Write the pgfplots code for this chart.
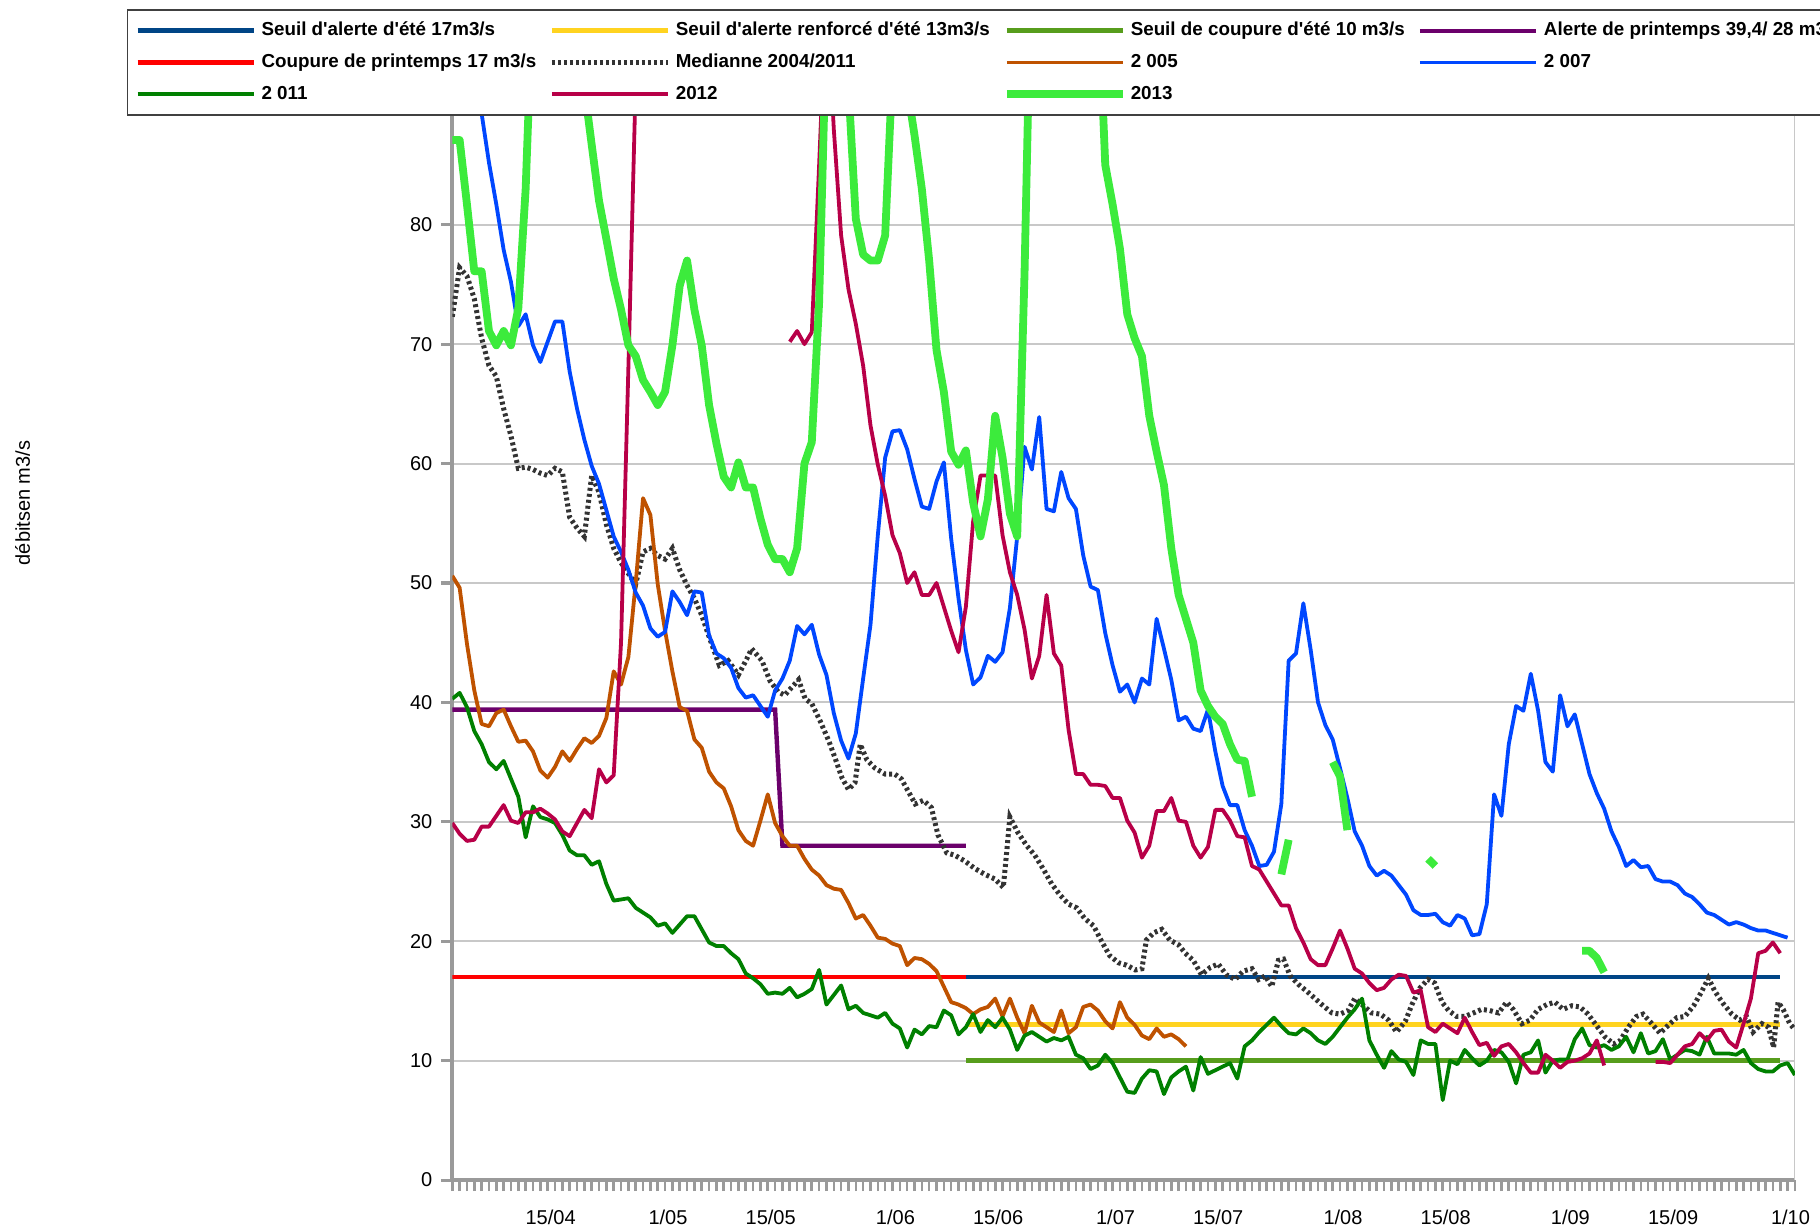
\documentclass[border=0pt]{standalone}
\usepackage{fontspec}
\setmainfont{Liberation Sans}
\usepackage{pgfplots}
\pgfplotsset{compat=1.18}
\definecolor{cAE}{HTML}{004586}
\definecolor{cAR}{HTML}{FFD320}
\definecolor{cCE}{HTML}{579D1C}
\definecolor{cAP}{HTML}{6B006B}
\definecolor{cCP}{HTML}{FF0000}
\definecolor{cMed}{HTML}{333333}
\definecolor{c05}{HTML}{BF5200}
\definecolor{c07}{HTML}{0047FF}
\definecolor{c11}{HTML}{008000}
\definecolor{c12}{HTML}{B80048}
\definecolor{c13}{HTML}{3CEB3C}
\definecolor{axgray}{HTML}{9A9A9A}
\definecolor{gridgray}{HTML}{C8C8C8}
\newcommand{\q}{\textquotesingle}
\begin{document}
\begin{tikzpicture}
\begin{axis}[
  at={(0pt,0pt)}, anchor=south west,
  scale only axis, width=671.3pt, height=537.4pt,
  xmin=0, xmax=183, ymin=0, ymax=90,
  axis x line*=bottom, axis y line*=left,
  x axis line style={-, axgray, line width=1.65pt},
  y axis line style={-, axgray, line width=2pt},
  tick align=outside,
  major tick length=5.5pt,
  xtick={0,...,183}, xticklabels={},
  xtick style={axgray, line width=1.3pt},
  extra x ticks={13.4,29.4,43.4,60.4,74.4,90.4,104.4,121.4,135.4,152.4,166.4,182.4},
  extra x tick labels={15/04,1/05,15/05,1/06,15/06,1/07,15/07,1/08,15/08,1/09,15/09,1/10},
  extra x tick style={major tick length=0pt, grid=none, xticklabel style={yshift=-11.5pt}},
  ytick={0,10,...,90},
  ytick style={axgray, line width=1.6pt},
  ymajorgrids, grid style={gridgray, line width=1pt},
  ticklabel style={font=\fontsize{10}{12}\selectfont},
  yticklabel style={inner xsep=4.3pt},
  /pgf/number format/assume math mode=true,
  ylabel={débitsen m3/s},
  ylabel style={at={(axis description cs:-0.3201,0.63)}, anchor=center, font=\fontsize{10}{12}\selectfont},
  unbounded coords=jump,
  legend columns=4,
  legend cell align=left,
  legend style={at={(axis description cs:-0.24236,1.08932)}, anchor=north west,
    draw=black!75, line width=0.75pt, fill=white,
    font=\fontsize{9.4}{11}\selectfont\bfseries,
    inner xsep=3.75pt, inner ysep=5.9pt, row sep=6.85pt,
    nodes={inner sep=0pt, text height=7pt, text depth=2pt},
    /tikz/every even column/.append style={column sep=6.5pt}},
  legend image code/.code={\draw[#1, line cap=butt] (0pt,0pt) -- (58pt,0pt); \path[draw=none, fill=none] (0pt,0pt) -- (62pt,0pt);},
]
\draw[gridgray, line width=1pt] (rel axis cs:1,0) -- (rel axis cs:1,1);
% thresholds
\addplot[cAE, line width=2.4pt] coordinates {(70,17) (181,17)};
\addlegendentry{Seuil d\q alerte d\q été 17m3/s}
\addplot[cAR, line width=2.4pt] coordinates {(70,13) (181,13)};
\addlegendentry{Seuil d\q alerte renforcé d\q été 13m3/s}
\addplot[cCE, line width=2.4pt] coordinates {(70,10) (181,10)};
\addlegendentry{Seuil de coupure d\q été 10 m3/s}
\addplot[cAP, line width=2.2pt] coordinates {(0,39.4) (44,39.4) (45,28) (70,28)};
\addlegendentry{Alerte de printemps 39,4/ 28 m3/s}
\addplot[cCP, line width=2.4pt] coordinates {(0,17) (70,17)};
\addlegendentry{Coupure de printemps 17 m3/s}
% median
\addplot[cMed, line width=2.5pt, dash pattern=on 1.5pt off 1.5pt] coordinates {
(0,72.3) (1,76.4) (2,75.7) (3,73.8) (4,70.5) (5,68.2) (6,67.3) (7,64.6) (8,62.3) (9,59.6)
(10,59.7) (11,59.5) (12,59.2) (13,59.0) (14,59.6) (15,59.3) (16,55.5) (17,54.6) (18,53.9) (19,59.0)
(20,57.6) (21,54.9) (22,52.9) (23,51.7) (24,50.8) (25,49.9) (26,52.6) (27,52.9) (28,52.3) (29,52.0)
(30,52.9) (31,51.1) (32,49.8) (33,48.7) (34,47.3) (35,45.5) (36.4,43.1) (37.6,43.5) (39,42.3) (40.1,43.6)
(40.8,44.5) (42.2,43.5) (43.3,41.8) (44.4,40.9) (45.3,40.6) (47.2,41.9) (48.1,40.3) (49,39.9) (50.1,38.5) (51.3,36.8)
(52.2,35.3) (53.1,33.7) (54,32.7) (54.9,33.3) (55.6,36.5) (56.5,35.2) (57.6,34.5) (59,34.0) (60.3,34.0) (61.2,33.6)
(63.1,31.5) (64.2,31.8) (65.3,31.2) (66.2,28.9) (67.4,27.4) (68.5,27.2) (69.9,26.7) (71.2,26.1) (72.6,25.6) (74,25.2)
(75.1,24.5) (75.6,27.7) (76,30.4) (77.1,29.1) (78.3,28.0) (79.4,27.2) (80.6,26.0) (81.7,24.8) (82.8,23.9) (84,23.1)
(85.1,22.8) (86.2,21.9) (87.4,21.3) (88.5,20.0) (89.6,18.8) (90.8,18.2) (91.9,18.0) (93.1,17.6) (94,17.7) (94.6,20.1)
(95.6,20.7) (96.7,21.0) (97.8,20.1) (99,19.7) (99.9,19.0) (101,18.4) (102.1,17.2) (103.3,17.8) (104.4,18.1) (105.5,17.2)
(106.7,16.8) (107.8,17.5) (109,17.7) (109.9,16.8) (110.8,17.1) (111.7,16.2) (112.6,18.4) (113.3,18.5) (114.2,17.1) (115.3,16.4)
(116.5,15.8) (117.6,15.2) (118.7,14.6) (119.9,14.0) (121,13.9) (122.1,14.2) (123,15.2) (124.2,14.6) (125.3,14.0) (126.5,13.9)
(127.6,13.4) (128.7,12.4) (129.9,13.3) (130.8,14.7) (131.9,16.1) (133,16.8) (133.9,16.5) (134.9,14.9) (135.8,14.2) (136.9,13.7)
(138,13.7) (139.2,14.0) (140.3,14.3) (141.4,14.2) (142.6,14.0) (143.7,14.9) (144.6,14.3) (145.8,13.1) (146.9,13.4) (148,14.3)
(149.2,14.7) (150.3,14.9) (151.4,14.3) (152.6,14.6) (153.7,14.5) (154.8,13.9) (156,12.9) (157.1,12.0) (158.3,11.4) (159.2,11.7)
(160.3,12.8) (161.4,13.7) (162.3,13.9) (163.5,13.1) (164.6,12.3) (165.8,13.0) (166.9,13.6) (168,13.7) (169.2,14.6) (170.3,15.8)
(171.2,16.9) (172.1,15.8) (173.2,14.8) (174.4,13.9) (175.5,13.4) (176.4,13.7) (177.3,12.4) (178.5,13.1) (179.4,12.8) (180.1,11.1)
(180.7,14.9) (181.4,14.3) (182.3,13.1) (183,12.6)};
\addlegendentry{Medianne 2004/2011}
% 2005
\addplot[c05, line width=1.9pt, line join=round] coordinates {
(0,50.6) (1,49.6) (2,44.9) (3,41.0) (4,38.2) (5,38.0) (6,39.1) (7,39.4) (8,38.0) (9,36.7)
(10,36.8) (11,35.9) (12,34.3) (13,33.7) (14,34.6) (15,35.9) (16,35.1) (17,36.1) (18,37.0) (19,36.6)
(20,37.2) (21,38.7) (22,42.6) (23,41.5) (24,43.8) (25,50.0) (26,57.1) (27,55.7) (28,49.9) (29,46.0)
(30,42.6) (31,39.6) (32,39.3) (33,36.9) (34,36.2) (35,34.2) (36,33.3) (37,32.8) (38,31.3) (39,29.3)
(40,28.4) (41,28.0) (42,30.1) (43,32.3) (44,29.9) (45,28.8) (46,28.0) (47,28.0) (48,26.9) (49,26.0)
(50,25.5) (51,24.7) (52,24.4) (53,24.3) (54,23.2) (55,21.9) (56,22.2) (57,21.3) (58,20.3) (59,20.2)
(60,19.8) (61,19.6) (62,18.0) (63,18.6) (64,18.5) (65,18.1) (66,17.5) (67,16.2) (68,14.9) (69,14.7)
(70,14.4) (71,13.9) (72,14.3) (73,14.5) (74,15.2) (75,13.7) (76,15.2) (77,13.6) (78,12.3) (79,14.6)
(80,13.2) (81,12.8) (82,12.4) (83,14.2) (84,12.3) (85,12.8) (86,14.5) (87,14.7) (88,14.2) (89,13.3)
(90,12.7) (91,14.9) (92,13.6) (93,13.0) (94,12.1) (95,11.8) (96,12.7) (97,12.0) (98,12.2) (99,11.8)
(100,11.2)};
\addlegendentry{2 005}
% 2007
\addplot[c07, line width=1.9pt, line join=round] coordinates {
(0,100) (1,98) (2,96) (3,93) (4,89.3) (5,85.2) (6,81.7) (7,77.9) (8,75.2) (9,71.5)
(10,72.5) (11,69.9) (12,68.5) (13,70.2) (14,71.9) (15,71.9) (16,67.7) (17,64.6) (18,62.0) (19,59.8)
(20,58.3) (21,56.1) (22,53.9) (23,52.6) (24,51.1) (25,49.2) (26,48.1) (27,46.2) (28,45.5) (29,45.9)
(30,49.3) (31,48.4) (32,47.3) (33,49.3) (34,49.2) (35,45.6) (36,44.1) (37,43.7) (38,42.9) (39,41.2)
(40,40.4) (41,40.6) (42,39.7) (43,38.8) (44,41.0) (45,42.0) (46,43.5) (47,46.4) (48,45.7) (49,46.5)
(50,44.0) (51,42.3) (52,39.1) (53,36.8) (54,35.3) (55,37.4) (56,42.0) (57,46.5) (58,54.0) (59,60.5)
(60,62.7) (61,62.8) (62,61.2) (63,58.7) (64,56.4) (65,56.2) (66,58.5) (67,60.1) (68,53.7) (69,48.7)
(70,44.4) (71,41.5) (72,42.1) (73,43.9) (74,43.4) (75,44.2) (76,47.9) (77,53.9) (78,61.4) (79,59.5)
(80,63.9) (81,56.2) (82,56.0) (83,59.3) (84,57.1) (85,56.2) (86,52.3) (87,49.7) (88,49.4) (89,45.8)
(90,43.1) (91,40.9) (92,41.5) (93,40.0) (94,42.0) (95,41.5) (96,47.0) (97,44.5) (98,41.9) (99,38.5)
(100,38.8) (101,37.8) (102,37.6) (103,39.4) (104,35.9) (105,33.0) (106,31.4) (107,31.4) (108,29.3) (109,28.0)
(110,26.3) (111,26.4) (112,27.5) (113,31.5) (114,43.5) (115,44.1) (116,48.3) (117,44.4) (118,40.0) (119,38.1)
(120,36.9) (121,34.5) (122,32.0) (123,29.2) (124,28.0) (125,26.3) (126,25.5) (127,25.9) (128,25.5) (129,24.7)
(130,23.9) (131,22.6) (132,22.2) (133,22.2) (134,22.3) (135,21.6) (136,21.3) (137,22.2) (138,21.9) (139,20.5)
(140,20.6) (141,23.1) (142,32.3) (143,30.5) (144,36.5) (145,39.7) (146,39.3) (147,42.4) (148,39.3) (149,35.0)
(150,34.2) (151,40.6) (152,38.0) (153,39.0) (154,36.5) (155,34.0) (156,32.4) (157,31.1) (158,29.2) (159,27.9)
(160,26.3) (161,26.8) (162,26.2) (163,26.3) (164,25.2) (165,25.0) (166,25.0) (167,24.7) (168,24.0) (169,23.7)
(170,23.1) (171,22.4) (172,22.2) (173,21.8) (174,21.4) (175,21.6) (176,21.4) (177,21.1) (178,20.9) (179,20.9)
(180,20.7) (181,20.5) (182,20.3)};
\addlegendentry{2 007}
% 2011
\addplot[c11, line width=1.9pt, line join=round] coordinates {
(0,40.3) (1,40.8) (2,39.6) (3,37.6) (4,36.5) (5,35.0) (6,34.4) (7,35.1) (8,33.6) (9,32.1)
(10,28.7) (11,31.3) (12,30.4) (13,30.2) (14,29.9) (15,28.9) (16,27.6) (17,27.2) (18,27.2) (19,26.4)
(20,26.7) (21,24.8) (22,23.4) (23,23.5) (24,23.6) (25,22.8) (26,22.4) (27,22.0) (28,21.3) (29,21.5)
(30,20.7) (31,21.4) (32,22.1) (33,22.1) (34,21.0) (35,19.9) (36,19.6) (37,19.6) (38,19.0) (39,18.5)
(40,17.3) (41,16.9) (42,16.4) (43,15.6) (44,15.7) (45,15.6) (46,16.1) (47,15.3) (48,15.6) (49,16.0)
(50,17.6) (51,14.7) (52,15.5) (53,16.3) (54,14.3) (55,14.6) (56,14.0) (57,13.8) (58,13.6) (59,14.0)
(60,13.1) (61,12.7) (62,11.1) (63,12.6) (64,12.2) (65,12.9) (66,12.8) (67,14.2) (68,13.8) (69,12.2)
(70,12.8) (71,13.9) (72,12.4) (73,13.4) (74,12.8) (75,13.6) (76,12.6) (77,10.9) (78,12.1) (79,12.4)
(80,12.0) (81,11.6) (82,11.9) (83,11.7) (84,12.0) (85,10.5) (86,10.2) (87,9.3) (88,9.6) (89,10.5)
(90,9.8) (91,8.6) (92,7.4) (93,7.3) (94,8.5) (95,9.2) (96,9.1) (97,7.2) (98,8.6) (99,9.1)
(100,9.5) (101,7.5) (102,10.3) (103,8.9) (104,9.2) (105,9.5) (106,9.8) (107,8.5) (108,11.2) (109,11.7)
(110,12.4) (111,13.0) (112,13.6) (113,12.9) (114,12.3) (115,12.2) (116,12.7) (117,12.3) (118,11.7) (119,11.4)
(120,12.0) (121,12.8) (122,13.6) (123,14.3) (124,15.2) (125,11.7) (126,10.5) (127,9.4) (128,10.8) (129,10.1)
(130,9.9) (131,8.8) (132,11.7) (133,11.4) (134,11.4) (135,6.7) (136,10.0) (137,9.7) (138,10.9) (139,10.2)
(140,9.6) (141,10.0) (142,10.9) (143,10.7) (144,9.9) (145,8.1) (146,10.5) (147,10.7) (148,11.7) (149,9.0)
(150,10.0) (151,10.1) (152,10.1) (153,11.8) (154,12.7) (155,11.3) (156,11.1) (157,11.3) (158,10.9) (159,11.2)
(160,12.0) (161,10.7) (162,12.3) (163,10.6) (164,10.8) (165,11.8) (166,10.1) (167,10.5) (168,10.9) (169,10.8)
(170,10.5) (171,12.0) (172,10.6) (173,10.6) (174,10.6) (175,10.5) (176,10.9) (177,9.8) (178,9.3) (179,9.1)
(180,9.1) (181,9.6) (182,9.8) (183,8.8)};
\addlegendentry{2 011}
% 2012
\addplot[c12, line width=1.9pt, line join=round] coordinates {
(0,29.9) (1,29.0) (2,28.4) (3,28.5) (4,29.6) (5,29.6) (6,30.5) (7,31.4) (8,30.1) (9,29.9)
(10,30.8) (11,30.8) (12,31.1) (13,30.7) (14,30.2) (15,29.2) (16,28.8) (17,29.9) (18,31.0) (19,30.3)
(20,34.4) (21,33.3) (22,33.9) (23,45.0) (24,68.0) (25,92.0) (35,nan)
(46,70.2) (47,71.1) (48,70.0) (49,71.0) (50,85) (51,100) (52,88) (53,79.1) (54,74.6) (55,71.7) (56,68.2) (57,63.2) (58,59.9) (59,57.3)
(60,54.0) (61,52.5) (62,50.0) (63,50.9) (64,49.0) (65,49.0) (66,50.0) (67,48.0) (68,46.0) (69,44.2)
(70,48.0) (71,55.2) (72,59.0) (73,59.0) (74,59.0) (75,54.0) (76,50.9) (77,49.0) (78,46.1) (79,42.0)
(80,43.9) (81,49.0) (82,44.1) (83,43.1) (84,37.7) (85,34.0) (86,34.0) (87,33.1) (88,33.1) (89,33.0)
(90,32.0) (91,32.0) (92,30.1) (93,29.1) (94,27.0) (95,28.0) (96,30.9) (97,30.9) (98,32.0) (99,30.1)
(100,30.0) (101,28.0) (102,27.0) (103,27.9) (104,31.0) (105,31.0) (106,30.1) (107,28.8) (108,28.7) (109,26.3)
(110,26.0) (111,25.0) (112,24.0) (113,23.0) (114,23.0) (115,21.1) (116,19.9) (117,18.5) (118,18.0) (119,18.0)
(120,19.4) (121,20.9) (122,19.4) (123,17.7) (124,17.3) (125,16.5) (126,15.9) (127,16.1) (128,16.8) (129,17.2)
(130,17.1) (131,15.7) (132,15.9) (133,12.8) (134,12.4) (135,13.1) (136,12.7) (137,12.3) (138,13.6) (139,12.4)
(140,11.3) (141,11.5) (142,10.4) (143,11.2) (144,11.4) (145,10.7) (146,9.8) (147,9.0) (148,9.0) (149,10.5)
(150,10.0) (151,9.4) (152,9.9) (153,10.0) (154,10.2) (155,10.6) (156,11.7) (157,9.6) (160,nan)
(164,9.9) (165,9.9) (166,9.8) (167,10.5) (168,11.2) (169,11.4)
(170,12.3) (171,11.7) (172,12.5) (173,12.6) (174,11.6) (175,11.1) (176,13.1) (177,15.2) (178,19.0) (179,19.2)
(180,19.9) (181,19.0)};
\addlegendentry{2012}
% 2013
\addplot[c13, line width=3.9pt, line join=round] coordinates {
(0,87.1) (1,87.1) (2,81.7) (3,76.1) (4,76.1) (5,71.1) (6,69.9) (7,71.1) (8,69.9) (9,73.0)
(10,83.0) (11,100) (12,110) (13,110) (14,110) (15,110) (16,105) (17,100) (18,91.5) (19,86.7)
(20,82.0) (21,78.8) (22,75.5) (23,72.9) (24,69.9) (25,69.0) (26,67.0) (27,66.0) (28,64.9) (29,66.0)
(30,69.9) (31,74.9) (32,77.0) (33,72.9) (34,69.9) (35,64.9) (36,61.7) (37,58.9) (38,58.0) (39,60.1)
(40,58.0) (41,58.0) (42,55.4) (43,53.2) (44,52.0) (45,52.0) (46,50.9) (47,52.9) (48,60.0) (49,61.8)
(50,73.5) (51,97) (52,105) (53,100) (54,91.5) (55,80.5) (56,77.5) (57,77.0) (58,77.0) (59,79.1)
(60,93) (61,100) (62,91.5) (63,87.5) (64,83.0) (65,77.0) (66,69.5) (67,66.0) (68,61.0) (69,59.9)
(70,61.1) (71,56.7) (72,53.9) (73,57.0) (74,64.0) (75,60.5) (76,55.8) (77,53.9) (78,76.0) (79,105)
(80,110) (81,110) (82,110) (83,110) (84,110) (85,110) (86,110) (87,110) (88,100) (89,85.0)
(90,81.7) (91,78.0) (92,72.5) (93,70.5) (94,69.0) (95,64.0) (96,61.0) (97,58.2) (98,52.9) (99,49.0)
(100,47.0) (101,45.0) (102,41.0) (103,39.7) (104,38.8) (105,38.2) (106,36.5) (107,35.2) (108,35.1) (109,32.1)
(111,nan) (113,25.6) (114,28.5) (117,nan) (120,35.0) (121,33.8) (122,29.3) (127,nan)
(133,26.9) (134,26.3) (140,nan) (154,19.2) (155,19.2) (156,18.6) (157,17.4)};
\addlegendentry{2013}
\end{axis}
\pgfresetboundingbox
\path[use as bounding box] (-226.15pt,-25.45pt) rectangle (683.85pt,590.05pt);
\end{tikzpicture}
\end{document}
